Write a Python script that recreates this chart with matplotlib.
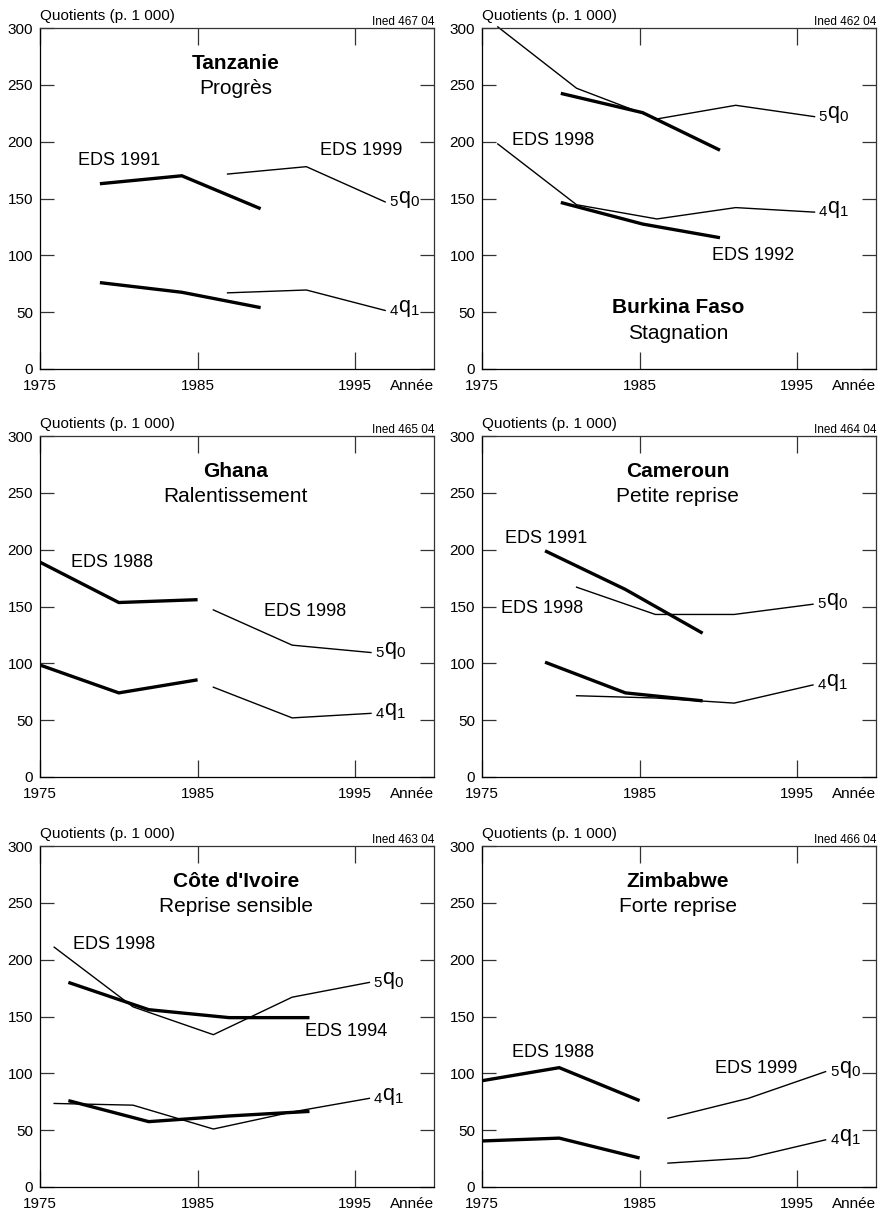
import matplotlib
matplotlib.use("Agg")
import matplotlib.pyplot as plt

plt.rcParams['font.family'] = ['Liberation Sans', 'DejaVu Sans']
plt.rcParams['mathtext.fontset'] = 'custom'
plt.rcParams['mathtext.rm'] = 'Liberation Sans'
plt.rcParams['mathtext.it'] = 'Liberation Sans:italic'

# ---------------- data ----------------
# Tanzanie
tz_old_x = [1978.8, 1984.0, 1989.0]
tz_old_5q0 = [163, 170, 141]
tz_old_4q1 = [76, 67.5, 54]
tz_new_x = [1986.9, 1991.9, 1996.9]
tz_new_5q0 = [171.5, 178, 147]
tz_new_4q1 = [67, 69.5, 51.5]

# Burkina Faso
bf_old_x = [1980.0, 1985.2, 1990.1]
bf_old_5q0 = [242.5, 225.5, 192.5]
bf_old_4q1 = [146.5, 127.5, 115.5]
bf_new_x = [1976.0, 1981.0, 1986.1, 1991.1, 1996.1]
bf_new_5q0 = [301, 247, 220, 232, 222]
bf_new_4q1 = [198, 144.5, 132, 142, 138]

# Ghana
gh_old_x = [1975.0, 1980.0, 1985.0]
gh_old_5q0 = [189, 153.5, 156]
gh_old_4q1 = [98.5, 74, 85.5]
gh_new_x = [1986.0, 1991.0, 1996.0]
gh_new_5q0 = [147, 116, 109.5]
gh_new_4q1 = [79, 52, 56]

# Cameroun
cm_old_x = [1979.0, 1984.1, 1989.0]
cm_old_5q0 = [199, 165, 126.5]
cm_old_4q1 = [101, 74, 67]
cm_new_x = [1981.0, 1986.0, 1991.0, 1996.0]
cm_new_5q0 = [167, 143, 143, 152]
cm_new_4q1 = [71.5, 69.5, 65, 81]

# Cote d'Ivoire
ci_old_x = [1976.8, 1981.9, 1987.0, 1992.1]
ci_old_5q0 = [180, 156, 149, 149]
ci_old_4q1 = [76, 57.5, 62.5, 66.5]
ci_new_x = [1975.9, 1980.9, 1986.0, 1991.0, 1995.9]
ci_new_5q0 = [211, 158.5, 134, 167, 180]
ci_new_4q1 = [73.5, 72, 51, 66, 78]

# Zimbabwe
zw_old_x = [1975.0, 1979.9, 1985.0]
zw_old_5q0 = [93.5, 105, 76]
zw_old_4q1 = [40.5, 43, 25.5]
zw_new_x = [1986.8, 1991.9, 1996.8]
zw_new_5q0 = [60.5, 78, 101.5]
zw_new_4q1 = [21, 25.5, 41.5]

countries = ["Tanzanie", "Burkina Faso", "Ghana", "Cameroun", "Côte d'Ivoire", "Zimbabwe"]
subtitles = ["Progrès", "Stagnation", "Ralentissement", "Petite reprise",
             "Reprise sensible", "Forte reprise"]
codes = ["Ined 467 04", "Ined 462 04", "Ined 465 04", "Ined 464 04",
         "Ined 463 04", "Ined 466 04"]
old_surveys = ["EDS 1991", "EDS 1992", "EDS 1988", "EDS 1991", "EDS 1994", "EDS 1988"]
new_surveys = ["EDS 1999", "EDS 1998", "EDS 1998", "EDS 1998", "EDS 1998", "EDS 1999"]

x_ticks = [1975, 1985, 1995]
y_ticks = [0, 50, 100, 150, 200, 250, 300]

panels = [
    dict(old=(tz_old_x, tz_old_5q0, tz_old_4q1), new=(tz_new_x, tz_new_5q0, tz_new_4q1),
         old_lab=(1980.0, 183), new_lab=(1995.4, 192.5), title_y=(0.897, 0.823)),
    dict(old=(bf_old_x, bf_old_5q0, bf_old_4q1), new=(bf_new_x, bf_new_5q0, bf_new_4q1),
         old_lab=(1992.2, 99.5), new_lab=(1979.5, 201), title_y=(0.179, 0.105)),
    dict(old=(gh_old_x, gh_old_5q0, gh_old_4q1), new=(gh_new_x, gh_new_5q0, gh_new_4q1),
         old_lab=(1979.6, 189), new_lab=(1991.8, 146), title_y=(0.897, 0.823)),
    dict(old=(cm_old_x, cm_old_5q0, cm_old_4q1), new=(cm_new_x, cm_new_5q0, cm_new_4q1),
         old_lab=(1979.1, 210), new_lab=(1978.8, 148), title_y=(0.897, 0.823)),
    dict(old=(ci_old_x, ci_old_5q0, ci_old_4q1), new=(ci_new_x, ci_new_5q0, ci_new_4q1),
         old_lab=(1994.4, 136.5), new_lab=(1979.7, 213), title_y=(0.897, 0.823)),
    dict(old=(zw_old_x, zw_old_5q0, zw_old_4q1), new=(zw_new_x, zw_new_5q0, zw_new_4q1),
         old_lab=(1979.5, 118), new_lab=(1992.4, 104), title_y=(0.897, 0.823)),
]

# ---------------- figure ----------------
W, H = 882, 1217
fig = plt.figure(figsize=(W / 100, H / 100), dpi=100)
fig.patch.set_facecolor('white')

lefts = [40, 482]
tops = [28, 436, 846]
aw, ah = 394, 341

spine_col = '#333333'

for i, p in enumerate(panels):
    r, c = divmod(i, 2)
    ax = fig.add_axes([lefts[c] / W, (H - tops[r] - ah) / H, aw / W, ah / H])
    ax.set_xlim(1975, 2000)
    ax.set_ylim(0, 300)
    for s in ax.spines.values():
        s.set_color(spine_col)
        s.set_linewidth(0.9)
    ax.spines['left'].set_color('black')
    ax.spines['bottom'].set_color('black')
    ax.set_xticks(x_ticks)
    ax.set_yticks(y_ticks)
    ax.tick_params(axis='x', direction='in', length=12, width=0.9, color=spine_col,
                   top=True, bottom=True, labelsize=11, pad=7)
    ax.tick_params(axis='y', direction='in', length=10, width=0.9, color=spine_col,
                   left=True, right=True, labelsize=11, pad=5)

    ox, o5, o4 = p['old']
    nx, n5, n4 = p['new']
    ax.plot(ox, o5, color='black', lw=2.4, solid_capstyle='butt', solid_joinstyle='miter')
    ax.plot(ox, o4, color='black', lw=2.4, solid_capstyle='butt', solid_joinstyle='miter')
    ax.plot(nx, n5, color='black', lw=1.0, clip_on=False)
    ax.plot(nx, n4, color='black', lw=1.0, clip_on=False)

    # q labels at end of the latest survey lines
    ax.text(nx[-1] + 0.25, n5[-1] + 2, r'${}_{5}\mathrm{q}_{0}$', fontsize=15.5,
            ha='left', va='center')
    ax.text(nx[-1] + 0.25, n4[-1] + 2, r'${}_{4}\mathrm{q}_{1}$', fontsize=15.5,
            ha='left', va='center')

    ax.text(p['old_lab'][0], p['old_lab'][1], old_surveys[i], fontsize=13,
            ha='center', va='center')
    ax.text(p['new_lab'][0], p['new_lab'][1], new_surveys[i], fontsize=13,
            ha='center', va='center')

    ax.text(0.497, p['title_y'][0], countries[i], transform=ax.transAxes,
            fontsize=15, fontweight='bold', ha='center', va='center')
    ax.text(0.497, p['title_y'][1], subtitles[i], transform=ax.transAxes,
            fontsize=15, ha='center', va='center')

    ax.annotate('Quotients (p. 1 000)', xy=(0, 1), xycoords='axes fraction',
                xytext=(0, 8), textcoords='offset pixels', fontsize=11,
                ha='left', va='baseline')
    ax.annotate(codes[i], xy=(1, 1), xycoords='axes fraction',
                xytext=(0, 3), textcoords='offset pixels', fontsize=8.5,
                ha='right', va='baseline')
    ax.annotate('Année', xy=(1, 0), xycoords='axes fraction',
                xytext=(0, -7), textcoords='offset points', fontsize=11,
                ha='right', va='top')

fig.savefig('out.png', dpi=100, facecolor='white')
